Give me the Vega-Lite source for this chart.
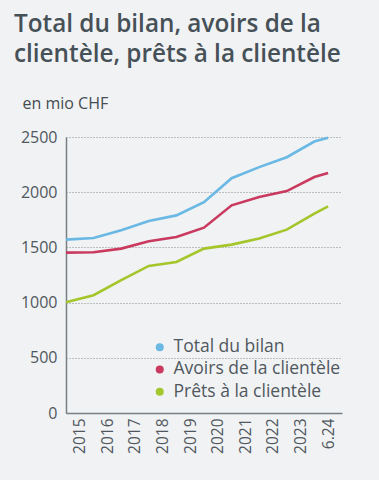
{
  "$schema": "https://vega.github.io/schema/vega-lite/v6.json",
  "width": 276,
  "height": 276,
  "autosize": "none",
  "padding": {"left": 66, "top": 137, "right": 37, "bottom": 67},
  "background": "#f0f2f4",
  "title": {
    "text": ["Total du bilan, avoirs de la", "clientèle, prêts à la clientèle"],
    "anchor": "start",
    "frame": "group",
    "dx": -52,
    "dy": 65,
    "offset": 74,
    "baseline": "alphabetic",
    "font": "Open Sans",
    "fontSize": 24.3,
    "fontWeight": 600,
    "lineHeight": 30,
    "color": "#465057"
  },
  "data": {
    "values": [
      {"date": "2014-12-31", "series": "Total du bilan", "value": 1570},
      {"date": "2015-12-31", "series": "Total du bilan", "value": 1585},
      {"date": "2016-12-31", "series": "Total du bilan", "value": 1655},
      {"date": "2017-12-31", "series": "Total du bilan", "value": 1739},
      {"date": "2018-12-31", "series": "Total du bilan", "value": 1790},
      {"date": "2019-12-31", "series": "Total du bilan", "value": 1910},
      {"date": "2020-12-31", "series": "Total du bilan", "value": 2127},
      {"date": "2021-12-31", "series": "Total du bilan", "value": 2227},
      {"date": "2022-12-31", "series": "Total du bilan", "value": 2317},
      {"date": "2023-12-31", "series": "Total du bilan", "value": 2459},
      {"date": "2024-06-30", "series": "Total du bilan", "value": 2493},
      {"date": "2014-12-31", "series": "Avoirs de la clientèle", "value": 1453},
      {"date": "2015-12-31", "series": "Avoirs de la clientèle", "value": 1456},
      {"date": "2016-12-31", "series": "Avoirs de la clientèle", "value": 1489},
      {"date": "2017-12-31", "series": "Avoirs de la clientèle", "value": 1555},
      {"date": "2018-12-31", "series": "Avoirs de la clientèle", "value": 1594},
      {"date": "2019-12-31", "series": "Avoirs de la clientèle", "value": 1679},
      {"date": "2020-12-31", "series": "Avoirs de la clientèle", "value": 1881},
      {"date": "2021-12-31", "series": "Avoirs de la clientèle", "value": 1956},
      {"date": "2022-12-31", "series": "Avoirs de la clientèle", "value": 2010},
      {"date": "2023-12-31", "series": "Avoirs de la clientèle", "value": 2137},
      {"date": "2024-06-30", "series": "Avoirs de la clientèle", "value": 2173},
      {"date": "2014-12-31", "series": "Prêts à la clientèle", "value": 1004},
      {"date": "2015-12-31", "series": "Prêts à la clientèle", "value": 1067},
      {"date": "2016-12-31", "series": "Prêts à la clientèle", "value": 1203},
      {"date": "2017-12-31", "series": "Prêts à la clientèle", "value": 1332},
      {"date": "2018-12-31", "series": "Prêts à la clientèle", "value": 1368},
      {"date": "2019-12-31", "series": "Prêts à la clientèle", "value": 1489},
      {"date": "2020-12-31", "series": "Prêts à la clientèle", "value": 1525},
      {"date": "2021-12-31", "series": "Prêts à la clientèle", "value": 1580},
      {"date": "2022-12-31", "series": "Prêts à la clientèle", "value": 1661},
      {"date": "2023-12-31", "series": "Prêts à la clientèle", "value": 1806},
      {"date": "2024-06-30", "series": "Prêts à la clientèle", "value": 1872}
    ],
    "format": {"parse": {"date": "date:'%Y-%m-%d'"}}
  },
  "mark": {"type": "line", "strokeWidth": 2.6, "interpolate": "linear"},
  "encoding": {
    "x": {
      "field": "date",
      "type": "temporal",
      "scale": {"domain": [{"year": 2014, "month": 12, "date": 31}, {"year": 2024, "month": 12, "date": 31}]},
      "axis": {
        "title": null,
        "values": [
          {"year": 2015, "month": 7, "date": 1},
          {"year": 2016, "month": 7, "date": 1},
          {"year": 2017, "month": 7, "date": 1},
          {"year": 2018, "month": 7, "date": 1},
          {"year": 2019, "month": 7, "date": 1},
          {"year": 2020, "month": 7, "date": 1},
          {"year": 2021, "month": 7, "date": 1},
          {"year": 2022, "month": 7, "date": 1},
          {"year": 2023, "month": 7, "date": 1},
          {"year": 2024, "month": 7, "date": 1}
        ],
        "labelExpr": "year(datum.value) == 2024 ? '6.24' : timeFormat(datum.value, '%Y')",
        "labelAngle": -90,
        "labelFont": "Open Sans",
        "labelFontSize": 15.5,
        "labelColor": "#50585e",
        "labelPadding": 5,
        "ticks": false,
        "grid": false,
        "domainColor": "#7a7f84",
        "domainWidth": 1.5
      }
    },
    "y": {
      "field": "value",
      "type": "quantitative",
      "scale": {"domain": [0, 2500], "nice": false},
      "axis": {
        "title": "en mio CHF",
        "titleAngle": 0,
        "titleAlign": "left",
        "titleBaseline": "alphabetic",
        "titleX": -44,
        "titleY": -29,
        "titleFont": "Open Sans",
        "titleFontSize": 16,
        "titleFontWeight": "normal",
        "titleColor": "#454c52",
        "values": [0, 500, 1000, 1500, 2000, 2500],
        "format": "d",
        "labelFont": "Open Sans",
        "labelFontSize": 16,
        "labelColor": "#50585e",
        "labelPadding": 9,
        "ticks": false,
        "domainColor": "#7a7f84",
        "domainWidth": 1.5,
        "grid": true,
        "gridColor": "#6a6f74",
        "gridDash": [1, 2],
        "gridWidth": 0.8
      }
    },
    "color": {
      "field": "series",
      "type": "nominal",
      "scale": {
        "domain": ["Total du bilan", "Avoirs de la clientèle", "Prêts à la clientèle"],
        "range": ["#6ab8e4", "#c93a5e", "#a4c62a"]
      },
      "legend": {
        "title": null,
        "orient": "none",
        "legendX": 85,
        "legendY": 201.5,
        "symbolType": "circle",
        "symbolSize": 64,
        "labelFont": "Open Sans",
        "labelFontSize": 17.5,
        "labelColor": "#50585e",
        "labelLimit": 260,
        "rowPadding": 3.2,
        "labelOffset": 5,
        "encode": {
          "symbols": {"update": {"fill": {"scale": "color", "field": "value"}, "strokeWidth": {"value": 0}, "fillOpacity": {"value": 1}}}
        }
      }
    }
  },
  "config": {"view": {"stroke": null}}
}
